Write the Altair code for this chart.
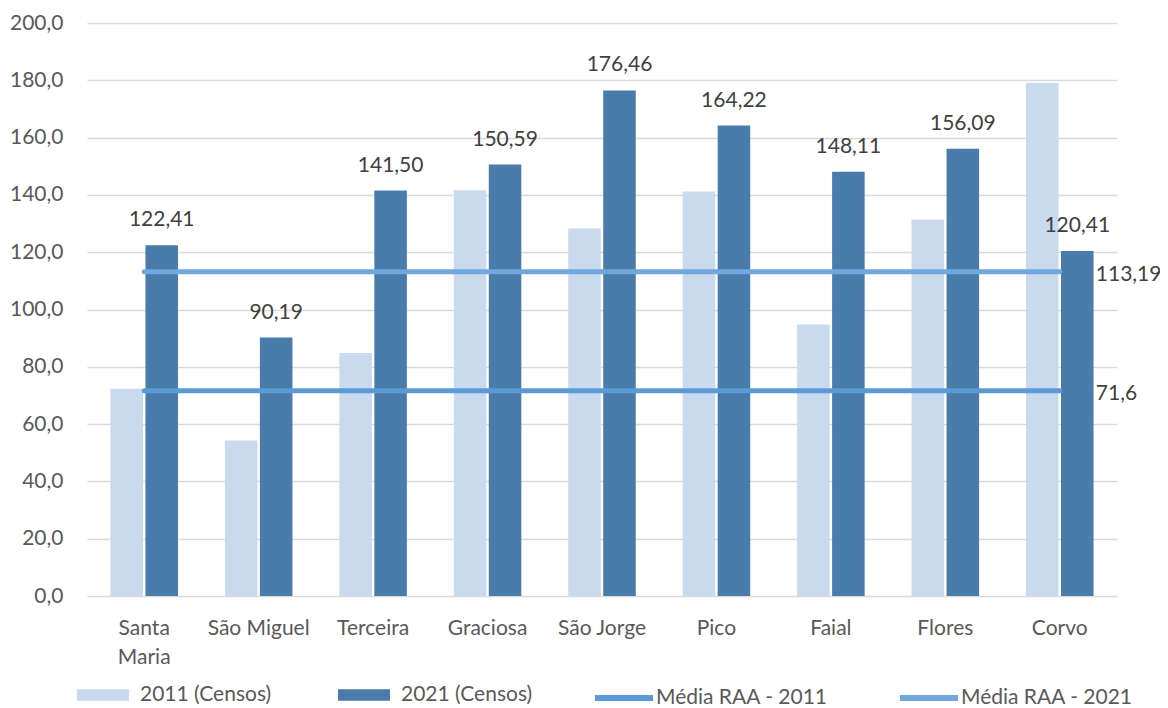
import altair as alt
import pandas as pd

ilhas = ["Santa Maria", "São Miguel", "Terceira", "Graciosa", "São Jorge",
         "Pico", "Faial", "Flores", "Corvo"]
v2011 = [72.3, 54.3, 84.8, 141.6, 128.3, 141.2, 94.8, 131.4, 179.1]
v2021 = [122.41, 90.19, 141.50, 150.59, 176.46, 164.22, 148.11, 156.09, 120.41]
bar_series = ["2011 (Censos)", "2021 (Censos)"]
bar_colors = ["#C9D9EE", "#497BAB"]
line_series = ["Média RAA - 2011", "Média RAA - 2021"]
line_colors = ["#5B9BD5", "#70A7DC"]
media = [71.6, 113.19]
media_labels = ["71,6", "113,19"]
y_ticks = [0, 20, 40, 60, 80, 100, 120, 140, 160, 180, 200]

FONT = "Lato"

bars_df = pd.DataFrame({
    "ilha": ilhas * 2,
    "serie": [bar_series[0]] * len(ilhas) + [bar_series[1]] * len(ilhas),
    "valor": v2011 + v2021,
})
lab_df = pd.DataFrame({"ilha": ilhas, "serie": bar_series[1], "valor": v2021})
lines_df = pd.DataFrame({
    "ilha": ilhas * 2,
    "serie_l": [line_series[0]] * len(ilhas) + [line_series[1]] * len(ilhas),
    "valor": [media[0]] * len(ilhas) + [media[1]] * len(ilhas),
})
mlab_df = pd.DataFrame({
    "ilha": [ilhas[-1]] * 2,
    "valor": media,
    "txt": media_labels,
})

x_enc = alt.X(
    "ilha:N", sort=ilhas,
    scale=alt.Scale(paddingInner=0.41, paddingOuter=0.205),
    axis=alt.Axis(
        title=None, labelAngle=0, labelFontSize=21, labelColor="#595959",
        labelFont=FONT, labelPadding=21, domain=False, ticks=False,
        labelLineHeight=29, grid=False,
        labelExpr="datum.value == 'Santa Maria' ? ['Santa', 'Maria'] : datum.value",
    ),
)
y_enc = alt.Y(
    "valor:Q",
    scale=alt.Scale(domain=[0, 200], nice=False),
    axis=alt.Axis(
        title=None, values=y_ticks,
        labelExpr="replace(format(datum.value, '.1f'), '.', ',')",
        labelFontSize=21, labelColor="#595959", labelFont=FONT,
        labelPadding=24, domain=False, ticks=False,
        gridColor="#D9D9D9", gridWidth=1.5,
    ),
)
xoff = alt.XOffset(
    "serie:N", sort=bar_series,
    scale=alt.Scale(domain=bar_series, paddingInner=0.07, paddingOuter=0),
)

fill_legend = alt.Legend(
    title=None, orient="none", legendX=-10, legendY=646,
    direction="horizontal",
    symbolType="M-1,-0.22L1,-0.22L1,0.22L-1,0.22Z",
    symbolSize=2704, symbolStrokeWidth=0, symbolOpacity=1,
    labelFontSize=21, labelFont=FONT, labelColor="#595959",
    labelOffset=11, columnPadding=66, padding=0, labelLimit=0,
)
stroke_legend = alt.Legend(
    title=None, orient="none", legendX=505, legendY=643,
    direction="horizontal", symbolType="stroke",
    symbolSize=3364, symbolStrokeWidth=6, symbolOpacity=1,
    labelFontSize=21, labelFont=FONT, labelColor="#595959",
    labelOffset=0, columnPadding=60, padding=0, labelLimit=0,
)

bars = alt.Chart(bars_df).mark_bar().encode(
    x=x_enc, y=y_enc, xOffset=xoff,
    fill=alt.Fill("serie:N", scale=alt.Scale(domain=bar_series, range=bar_colors),
                  legend=fill_legend),
)
bar_labels = alt.Chart(lab_df).transform_calculate(
    txt="replace(format(datum.valor, '.2f'), '.', ',')"
).mark_text(
    baseline="alphabetic", dy=-19, fontSize=21, font=FONT, color="#404040",
).encode(x=alt.X("ilha:N", sort=ilhas), y="valor:Q", xOffset=xoff, text="txt:N")
lines = alt.Chart(lines_df).mark_line(strokeWidth=5, strokeCap="round").encode(
    x=alt.X("ilha:N", sort=ilhas), y="valor:Q",
    stroke=alt.Stroke("serie_l:N",
                      scale=alt.Scale(domain=line_series, range=line_colors),
                      legend=stroke_legend),
)
line_labels = alt.Chart(mlab_df).mark_text(
    align="left", baseline="middle", dx=36, dy=3, fontSize=21, font=FONT,
    color="#404040",
).encode(x=alt.X("ilha:N", sort=ilhas), y="valor:Q", text="txt:N")

chart = alt.layer(bars, lines, bar_labels, line_labels).resolve_scale(
    fill="independent", stroke="independent"
).properties(
    width=1030, height=573,
    autosize=alt.AutoSizeParams(type="none"),
    padding={"left": 79, "top": 15, "right": 43, "bottom": 112},
).configure(font=FONT, view=alt.ViewConfig(stroke=None))

chart.save("out.html", embed_options={"renderer": "svg", "actions": False})
